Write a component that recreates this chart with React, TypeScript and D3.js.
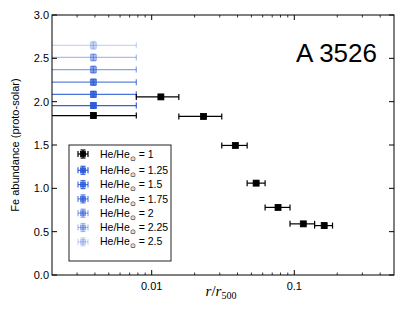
import React from 'react';
import * as d3 from 'd3';

// radial bins (r/r500)
const rCenter = [0.0039, 0.0116, 0.0231, 0.0386, 0.054, 0.0769, 0.1156, 0.162];
const rLo = [0, 0.0078, 0.0155, 0.031, 0.0467, 0.0624, 0.0933, 0.1387];
const rHi = [0.0078, 0.0155, 0.031, 0.0467, 0.0624, 0.0933, 0.1387, 0.1853];
const fe = [1.84, 2.055, 1.83, 1.495, 1.06, 0.78, 0.59, 0.57];
const feErr = [0.03, 0.025, 0.025, 0.022, 0.025, 0.025, 0.025, 0.03];

// central bin for other He/He_sun ratios
const heRatios = ['1.25', '1.5', '1.75', '2', '2.25', '2.5'];
const heFe = [1.955, 2.085, 2.225, 2.37, 2.51, 2.65];
const heFeErr = [0.03, 0.035, 0.035, 0.04, 0.04, 0.045];
const heAlpha = [0.95, 0.85, 0.75, 0.55, 0.4, 0.25];

const yTicks = [0, 0.5, 1, 1.5, 2, 2.5, 3];
const xTicks = [0.01, 0.1];

const W = 415;
const H = 313;
const m = { left: 52, right: 21, top: 15, bottom: 38 };
const BLUE = '#2a5ad8';
const FONT = '"Liberation Sans", Arial, Helvetica, sans-serif';

const x = d3.scaleLog().domain([0.002, 0.5]).range([m.left, W - m.right]);
const y = d3.scaleLinear().domain([0, 3]).range([H - m.bottom, m.top]);

// minor log ticks
const minor: number[] = [];
[0.001, 0.01, 0.1].forEach((dec) => {
  for (let k = 2; k <= 9; k++) {
    const v = dec * k;
    if (v > 0.002 && v < 0.5) minor.push(v);
  }
});

const xc = (v: number) => x(Math.max(v, 0.002));

function ErrPoint({ cx, cy, xl, xr, yt, yb, color, opacity, size = 6 }: any) {
  return (
    <g stroke={color} strokeOpacity={opacity} strokeWidth={1.2}>
      <line x1={xl} x2={xr} y1={cy} y2={cy} />
      <line x1={xr} x2={xr} y1={cy - 3} y2={cy + 3} />
      {xl > m.left + 1 && <line x1={xl} x2={xl} y1={cy - 3} y2={cy + 3} />}
      <line x1={cx} x2={cx} y1={yt} y2={yb} />
      <line x1={cx - 2.5} x2={cx + 2.5} y1={yt} y2={yt} />
      <line x1={cx - 2.5} x2={cx + 2.5} y1={yb} y2={yb} />
      <rect
        x={cx - size / 2}
        y={cy - size / 2}
        width={size}
        height={size}
        fill={color}
        fillOpacity={opacity}
        strokeWidth={0.8}
      />
    </g>
  );
}

const legendRows = ['1', ...heRatios];

export default function App() {
  const [x0, x1] = x.range();
  const [y0, y1] = y.range();
  return (
    <svg
      width={W}
      height={H}
      style={{ position: 'absolute', left: 0, top: 0, background: '#fff' }}
      fontFamily={FONT}
    >
      <defs>
        <clipPath id="plot">
          <rect x={x0} y={y1} width={x1 - x0} height={y0 - y1} />
        </clipPath>
      </defs>

      <g clipPath="url(#plot)">
        {heRatios.map((h, i) => (
          <ErrPoint
            key={h}
            cx={x(rCenter[0])}
            cy={y(heFe[i])}
            xl={xc(rLo[0])}
            xr={x(rHi[0])}
            yt={y(heFe[i] + heFeErr[i])}
            yb={y(heFe[i] - heFeErr[i])}
            color={BLUE}
            opacity={heAlpha[i]}
          />
        ))}
        {fe.map((v, i) => (
          <ErrPoint
            key={i}
            cx={x(rCenter[i])}
            cy={y(v)}
            xl={xc(rLo[i])}
            xr={x(rHi[i])}
            yt={y(v + feErr[i])}
            yb={y(v - feErr[i])}
            color="#000"
            opacity={1}
          />
        ))}
      </g>

      {/* frame */}
      <rect x={x0} y={y1} width={x1 - x0} height={y0 - y1} fill="none" stroke="#000" strokeWidth={1} />

      {/* y ticks */}
      {yTicks.map((t) => (
        <g key={t}>
          <line x1={x0} x2={x0 + 5} y1={y(t)} y2={y(t)} stroke="#000" />
          <line x1={x1} x2={x1 - 5} y1={y(t)} y2={y(t)} stroke="#000" />
          <text x={x0 - 3} y={y(t)} dy="0.35em" textAnchor="end" fontSize={11}>
            {t.toFixed(1)}
          </text>
        </g>
      ))}

      {/* x ticks */}
      {xTicks.map((t) => (
        <g key={t}>
          <line x1={x(t)} x2={x(t)} y1={y0} y2={y0 - 5} stroke="#000" />
          <line x1={x(t)} x2={x(t)} y1={y1} y2={y1 + 5} stroke="#000" />
          <text x={x(t)} y={y0 + 15} textAnchor="middle" fontSize={11}>
            {String(t)}
          </text>
        </g>
      ))}
      {minor.map((t) => (
        <g key={t} stroke="#000" strokeWidth={0.8}>
          <line x1={x(t)} x2={x(t)} y1={y0} y2={y0 - 2.5} />
          <line x1={x(t)} x2={x(t)} y1={y1} y2={y1 + 2.5} />
        </g>
      ))}

      {/* labels */}
      <text
        transform={`translate(19,${(y0 + y1) / 2}) rotate(-90)`}
        textAnchor="middle"
        fontSize={11}
      >
        Fe abundance (proto-solar)
      </text>
      <text
        x={221}
        y={296}
        textAnchor="middle"
        fontFamily='"Liberation Serif", "DejaVu Serif", serif'
        fontSize={15}
      >
        <tspan fontStyle="italic">r</tspan>/<tspan fontStyle="italic">r</tspan>
        <tspan fontSize={10} dy={3}>500</tspan>
      </text>
      <text x={296} y={62} fontSize={26}>
        A 3526
      </text>

      {/* legend */}
      <rect x={69} y={145} width={102} height={116} fill="#fff" stroke="#222" strokeWidth={1} />
      {legendRows.map((h, i) => {
        const cy = 154 + i * 14.3 + (i > 0 ? 2 : 0);
        const color = i === 0 ? '#000' : BLUE;
        const op = i === 0 ? 1 : heAlpha[i - 1];
        return (
          <g key={h}>
            <ErrPoint
              cx={83}
              cy={cy}
              xl={78}
              xr={88}
              yt={cy - 4}
              yb={cy + 4}
              color={color}
              opacity={op}
              size={5}
            />
            <text x={100} y={cy} dy="0.35em" fontSize={10.5}>
              He/He
              <tspan fontSize={7} dy={3}>⊙</tspan>
              <tspan dy={-3}> = {h}</tspan>
            </text>
          </g>
        );
      })}
    </svg>
  );
}
